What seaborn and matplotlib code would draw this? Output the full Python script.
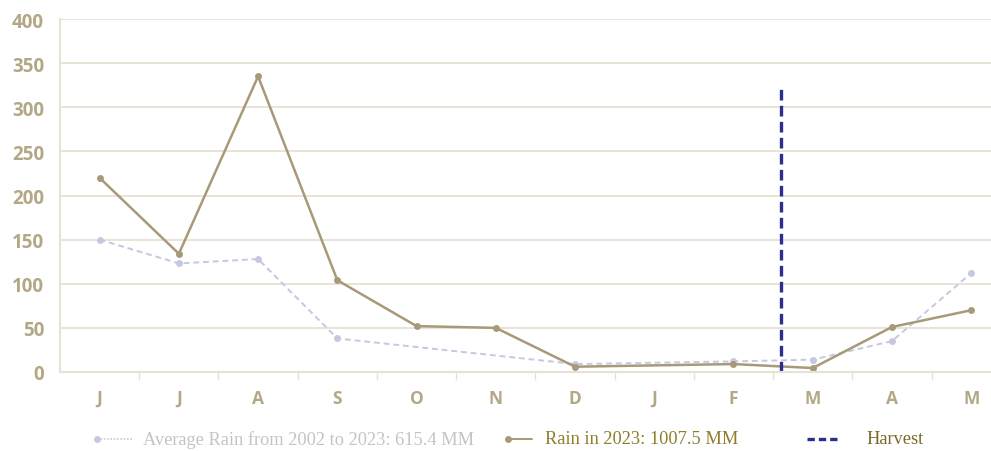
import matplotlib.pyplot as plt
import matplotlib.lines as mlines
import numpy as np
import pandas as pd
import seaborn as sns

months = ["J", "J", "A", "S", "O", "N", "D", "J", "F", "M", "A", "M"]
rain_2023 = [220, 134, 335, 104, 52, 50, 6, np.nan, 9, 4.5, 51, 70]
rain_avg = [150, 123, 128, 38, np.nan, np.nan, 9, np.nan, 12, 14, 35, 112]
harvest_pos = 8.6
harvest_top = 323

avg_label = "Average Rain from 2002 to 2023: 615.4 MM"
rain_label = "Rain in 2023: 1007.5 MM"
harvest_label = "Harvest"

c_rain = "#a89a78"
c_avg = "#c6c8e2"
c_harvest = "#2a2e8c"
c_grid = "#e8e2d4"
c_tick = "#b3a886"

sns.set_theme(style="white")
plt.rcParams["font.family"] = ["Open Sans", "DejaVu Sans"]

df = pd.DataFrame({"pos": np.arange(len(months)), "rain": rain_2023, "avg": rain_avg})

fig = plt.figure(figsize=(9.91, 4.52), dpi=100)
ax = fig.add_axes([60 / 991, 1 - 373 / 452, (991 - 60) / 991, 353 / 452])

avg_df = df.dropna(subset=["avg"])
sns.lineplot(data=avg_df, x="pos", y="avg", ax=ax, color=c_avg, lw=1.4,
             linestyle=(0, (3, 2)), marker="o", markersize=5,
             markeredgewidth=0, markerfacecolor=c_avg)
rain_df = df.dropna(subset=["rain"])
sns.lineplot(data=rain_df, x="pos", y="rain", ax=ax, color=c_rain, lw=1.8,
             marker="o", markersize=5, markeredgewidth=0, markerfacecolor=c_rain)
ax.plot([harvest_pos, harvest_pos], [0, harvest_top], color=c_harvest,
        lw=2.4, linestyle=(0, (3.2, 1.6)))

ax.set_xticks(np.arange(len(months)))
ax.set_xticklabels(months)
ax.set_xticks(np.arange(len(months)) + 0.5, minor=True)
ax.set_xlim(-0.5, 11.25)
ax.set_ylim(0, 400)
ax.set_yticks(range(0, 401, 50))
ax.yaxis.grid(True, color=c_grid, lw=1.3)
ax.set_axisbelow(True)
ax.set_xlabel("")
ax.set_ylabel("")

ax.tick_params(axis="x", which="major", length=0, pad=12, labelsize=12.5,
               labelcolor=c_tick)
ax.tick_params(axis="x", which="minor", length=6, width=1, color=c_grid,
               direction="out", bottom=True)
ax.tick_params(axis="y", length=0, pad=11.5, labelsize=13.5, labelcolor=c_tick)
for lbl in ax.get_xticklabels() + ax.get_yticklabels():
    lbl.set_fontweight("bold")

for side in ["top", "right"]:
    ax.spines[side].set_visible(False)
for side in ["left", "bottom"]:
    ax.spines[side].set_color(c_grid)
    ax.spines[side].set_linewidth(1.5)

# legend row below the plot
ly = 1 - 440 / 452
serif = ["Liberation Serif", "DejaVu Serif"]
fig.add_artist(mlines.Line2D([97 / 991, 132 / 991], [ly, ly], color=c_avg,
                             lw=1.2, linestyle=(0, (1, 1))))
fig.add_artist(mlines.Line2D([97 / 991], [ly], color=c_avg, marker="o",
                             markersize=5, markeredgewidth=0))
fig.text(143 / 991, ly, avg_label, family=serif, fontsize=13.2, color="#c4c4c4",
         va="center")
fig.add_artist(mlines.Line2D([508 / 991, 532 / 991], [ly, ly], color=c_rain, lw=1.4))
fig.add_artist(mlines.Line2D([508 / 991], [ly], color=c_rain, marker="o",
                             markersize=5, markeredgewidth=0))
fig.text(545 / 991, ly, rain_label, family=serif, fontsize=13.2, color="#8e7d2c",
         va="center")
fig.add_artist(mlines.Line2D([807 / 991, 838 / 991], [ly, ly], color=c_harvest,
                             lw=2.4, linestyle=(0, (2.2, 1.2))))
fig.text(866 / 991, ly, harvest_label, family=serif, fontsize=13.2, color="#7a6a2a",
         va="center")

fig.savefig("out.png", dpi=100)
